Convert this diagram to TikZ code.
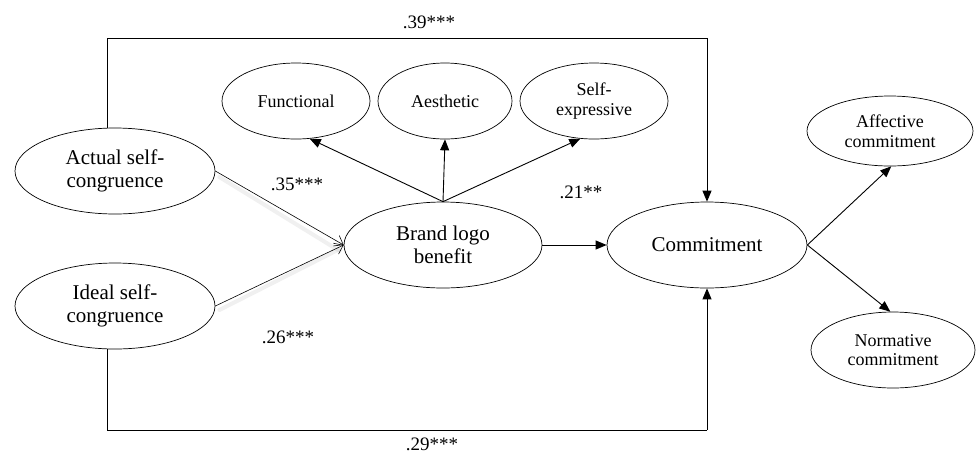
\documentclass[tikz,border=0pt]{standalone}
\usepackage{fontspec}
\setmainfont{Liberation Serif}
\usetikzlibrary{arrows.meta,shapes.geometric,calc}
\begin{document}
\begin{tikzpicture}[x=1pt,y=-1pt,
  big/.style={draw,ellipse,inner sep=0pt,line width=0.7pt,align=center,
    font=\fontsize{21}{23}\selectfont},
  small/.style={draw,ellipse,inner sep=0pt,line width=0.7pt,align=center,
    font=\fontsize{18}{19.5}\selectfont},
  lbl/.style={font=\fontsize{19}{21}\selectfont,inner sep=0pt},
  arr/.style={line width=0.9pt,-{Triangle[length=11pt,width=9pt]}},
  thin/.style={line width=0.6pt,-{Straight Barb[length=8pt,width=12pt,line width=0.6pt]}},
  shade/.style={line width=4pt,black,opacity=0.06,line cap=round},
  plain/.style={line width=0.9pt}]
\useasboundingbox (0,0) rectangle (976,456);

\node[big,minimum width=200pt,minimum height=86pt] (act) at (115,171) {Actual self-\\congruence};
\node[big,minimum width=200pt,minimum height=86pt] (ideal) at (115,306) {Ideal self-\\congruence};
\node[big,minimum width=198pt,minimum height=86pt] (brand) at (443,245) {Brand logo\\benefit};
\node[big,minimum width=200pt,minimum height=86pt] (comm) at (707,245) {Commitment};
\node[small,minimum width=148pt,minimum height=76pt] (func) at (296,101) {Functional};
\node[small,minimum width=134pt,minimum height=76pt] (aest) at (445,101) {Aesthetic};
\node[small,minimum width=148pt,minimum height=76pt] (selfx) at (594,101) {Self-\\expressive};
\node[small,minimum width=166pt,minimum height=70pt] (aff) at (890,131) {Affective\\commitment};
\node[small,minimum width=164pt,minimum height=76pt] (norm) at (893,350) {Normative\\commitment};

% shadows of thin arrows
\draw[shade] ($(act.east)+(4,6)$) -- ($(brand.west)+(-4,6)$);
\draw[shade] ($(ideal.east)+(4,4)$) -- ($(brand.west)+(-4,4)$);

\draw[thin] (act.east) -- (brand.west);
\draw[thin] (ideal.east) -- (brand.west);

\draw[arr] (brand.north) -- (func.-70);
\draw[arr] (brand.north) -- (aest.south);
\draw[arr] (brand.north) -- (selfx.-110);
\draw[arr] (brand.east) -- (comm.west);
\draw[arr] (comm.east) -- (aff.-88);
\draw[arr] (comm.east) -- (norm.94);

\coordinate (tl) at (107,38);
\coordinate (tr) at (707,38);
\coordinate (bl) at (107,430);
\coordinate (br) at (707,430);
\draw[plain] (tl |- act.north) -- (tl) -- (tr);
\draw[arr] (tr) -- (comm.north);
\draw[plain] (bl |- ideal.south) -- (bl) -- (br);
\draw[arr] (br) -- (comm.south);

\node[lbl] (l39) at (429,22) {.39***};
\node[lbl] (l35) at (297,184) {.35***};
\node[lbl] (l21) at (581,192) {.21**};
\node[lbl] (l26) at (288,337) {.26***};
\node[lbl] (l29) at (432,444) {.29***};
\end{tikzpicture}
\end{document}
